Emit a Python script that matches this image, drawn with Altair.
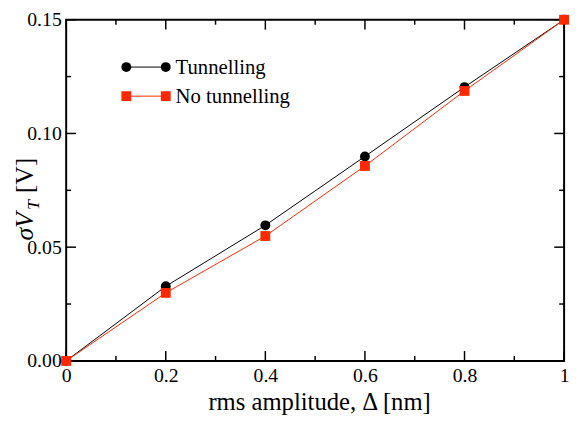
import altair as alt
import pandas as pd

# ---- data ----
x_vals = [0.0, 0.2, 0.4, 0.6, 0.8, 1.0]
tunnelling = [0.0, 0.0328, 0.0596, 0.0899, 0.1204, 0.150]
no_tunnelling = [0.0, 0.0299, 0.0549, 0.0857, 0.1187, 0.150]
series_names = ["Tunnelling", "No tunnelling"]

x_major = [0.0, 0.2, 0.4, 0.6, 0.8, 1.0]
x_minor = [0.1, 0.3, 0.5, 0.7, 0.9]
y_major = [0.0, 0.05, 0.10, 0.15]
y_minor = [0.025, 0.075, 0.125]

x_title = "rms amplitude, Δ [nm]"
y_title_parts = ["σV", "T", "[V]"]

FONT = "Liberation Serif"
colors = ["#000000", "#ff2800"]
shapes = ["circle", "square"]

W, H = 505, 346
PAD_L, PAD_T = 59, 9

df = pd.DataFrame({
    "x": x_vals * 2,
    "y": tunnelling + no_tunnelling,
    "series": [series_names[0]] * len(x_vals) + [series_names[1]] * len(x_vals),
})

xs = alt.Scale(domain=[0, 1], nice=False, zero=False)
ys = alt.Scale(domain=[0, 0.15], nice=False, zero=False)
cs = alt.Scale(domain=series_names, range=colors)
ss = alt.Scale(domain=series_names, range=shapes)

x_axis = alt.Axis(
    values=x_major,
    labelExpr="datum.value == 0 ? '0' : datum.value == 1 ? '1' : format(datum.value, '.1f')",
    labelFont=FONT, labelFontSize=20, labelColor="black", labelPadding=5,
    labelFlush=False, labelOverlap=False,
    ticks=False, domain=False, grid=False,
    title=x_title, titleFont=FONT, titleFontSize=25, titleFontWeight="normal",
    titleColor="black", titlePadding=4, titleX=W / 2 + 4, titleAlign="center",
)
y_axis = alt.Axis(
    values=y_major, format=".2f",
    labelFont=FONT, labelFontSize=20, labelColor="black", labelPadding=5,
    labelFlush=False, labelOverlap=False,
    ticks=False, domain=False, grid=False, title=None,
)

# data lines (carry the axes)
lines = alt.Chart(df).mark_line(strokeWidth=1).encode(
    x=alt.X("x:Q", scale=xs, axis=x_axis),
    y=alt.Y("y:Q", scale=ys, axis=y_axis),
    color=alt.Color("series:N", scale=cs, legend=None),
    detail="series:N",
)
points = alt.Chart(df).mark_point(filled=True, opacity=1, size=100).encode(
    x=alt.X("x:Q", scale=xs),
    y=alt.Y("y:Q", scale=ys),
    color=alt.Color("series:N", scale=cs, legend=None),
    shape=alt.Shape("series:N", scale=ss, legend=None),
)


def xticks(vals, length, top):
    d = pd.DataFrame({"v": vals})
    y0 = 0 if top else H
    y1 = length if top else H - length
    return alt.Chart(d).mark_rule(color="black", strokeWidth=1.5).encode(
        x=alt.X("v:Q", scale=xs), y=alt.value(y0), y2=alt.value(y1))


def yticks(vals, length, right):
    d = pd.DataFrame({"v": vals})
    x0 = W if right else 0
    x1 = W - length if right else length
    return alt.Chart(d).mark_rule(color="black", strokeWidth=1.5).encode(
        y=alt.Y("v:Q", scale=ys), x=alt.value(x0), x2=alt.value(x1))


ticks = [
    xticks(x_major, 10, False), xticks(x_minor, 5, False),
    xticks(x_major, 10, True), xticks(x_minor, 5, True),
    yticks(y_major, 10, False), yticks(y_minor, 5, False),
    yticks(y_major, 10, True), yticks(y_minor, 5, True),
]

# manual legend (positions in plot pixels)
legend_layers = []
for i, name in enumerate(series_names):
    ly = 48 + 29.5 * i
    d = pd.DataFrame({"series": [name]})
    legend_layers.append(alt.Chart(d).mark_rule(color=colors[i], strokeWidth=1).encode(
        x=alt.value(61), x2=alt.value(101), y=alt.value(ly)))
    for lx in (61, 101):
        legend_layers.append(alt.Chart(d).mark_point(
            filled=True, opacity=1, size=100, shape=shapes[i], color=colors[i]).encode(
            x=alt.value(lx), y=alt.value(ly)))
    legend_layers.append(alt.Chart(d).mark_text(
        font=FONT, fontSize=21, align="left", baseline="middle", color="black").encode(
        text="series:N", x=alt.value(111), y=alt.value(ly + 1)))

# y title pieces (rotated)
yt = []
yt.append(alt.Chart(pd.DataFrame({"t": [y_title_parts[0]]})).mark_text(
    font=FONT, fontSize=26, fontStyle="italic", angle=270, align="left",
    baseline="alphabetic", color="black").encode(
    text="t:N", x=alt.value(-34), y=alt.value(224)))
yt.append(alt.Chart(pd.DataFrame({"t": [y_title_parts[1]]})).mark_text(
    font=FONT, fontSize=18, fontStyle="italic", angle=270, align="left",
    baseline="alphabetic", color="black").encode(
    text="t:N", x=alt.value(-28), y=alt.value(193)))
yt.append(alt.Chart(pd.DataFrame({"t": [y_title_parts[2]]})).mark_text(
    font=FONT, fontSize=26, angle=270, align="left",
    baseline="alphabetic", color="black").encode(
    text="t:N", x=alt.value(-34), y=alt.value(176)))

chart = alt.layer(lines, *ticks, points, *legend_layers, *yt).properties(
    width=W, height=H,
    padding={"left": PAD_L, "top": PAD_T, "right": 7, "bottom": 409 - PAD_T - H},
    autosize="none",
    background="white",
).configure_view(stroke="black", strokeWidth=2)

chart.save("out.html", embed_options={"renderer": "svg", "actions": False})
